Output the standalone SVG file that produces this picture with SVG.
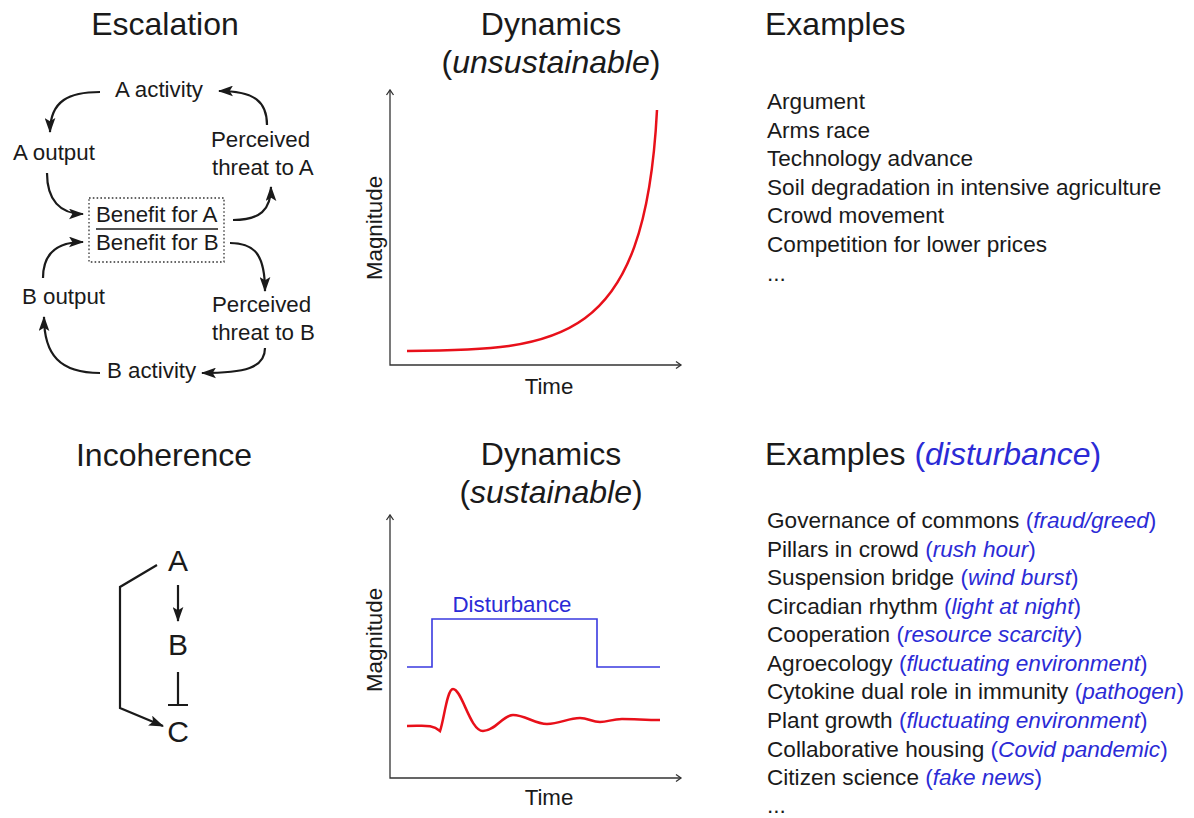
<svg xmlns="http://www.w3.org/2000/svg" width="1194" height="818" viewBox="0 0 1194 818">
<style>
text{font-family:"Liberation Sans",Arial,sans-serif;fill:#1a1a1a}
.t{font-size:32px}
.s{font-size:22.3px}
.l{font-size:22.6px}
.abc{font-size:30px}
.b{fill:#2b2bd6}
.i{font-style:italic}
.con{fill:none;stroke:#1a1a1a;stroke-width:2.2}
.ax{fill:none;stroke:#333;stroke-width:1.3}
.chev{fill:none;stroke:#333;stroke-width:1.3}
</style>
<defs>
<marker id="ah" viewBox="0 0 14 10" refX="13" refY="5" markerWidth="15" markerHeight="11" markerUnits="userSpaceOnUse" orient="auto">
<path d="M0,0 L14,5 L0,10 L3,5 z" fill="#1a1a1a"/>
</marker>
</defs>
<rect width="1194" height="818" fill="#fff"/>

<!-- titles -->
<g id="titles">
<text class="t" x="165" y="35" text-anchor="middle">Escalation</text>
<text class="t" x="551" y="35" text-anchor="middle">Dynamics</text>
<text class="t" x="551" y="73" text-anchor="middle">(<tspan class="i">unsustainable</tspan>)</text>
<text class="t" x="765" y="35">Examples</text>
<text class="t" x="164" y="466" text-anchor="middle">Incoherence</text>
<text class="t" x="551" y="465" text-anchor="middle">Dynamics</text>
<text class="t" x="551" y="503" text-anchor="middle">(<tspan class="i">sustainable</tspan>)</text>
<text class="t" x="765" y="465">Examples <tspan class="b">(</tspan><tspan class="b i">disturbance</tspan><tspan class="b">)</tspan></text>
</g>

<!-- escalation nodes -->
<g id="a-activity"><text class="s" x="115" y="97">A activity</text></g>
<g id="a-output"><text class="s" x="13" y="160">A output</text></g>
<g id="threat-a"><text class="s" x="211" y="147">Perceived</text><text class="s" x="212" y="175">threat to A</text></g>
<g id="benefit">
<rect x="89" y="198" width="135" height="64" fill="none" stroke="#333" stroke-width="1.3" stroke-dasharray="1.6,2.2"/>
<text class="s" x="96" y="222">Benefit for A</text>
<line x1="96" y1="229" x2="218" y2="229" stroke="#1a1a1a" stroke-width="1.6"/>
<text class="s" x="96" y="250">Benefit for B</text>
</g>
<g id="b-output"><text class="s" x="22" y="304">B output</text></g>
<g id="threat-b"><text class="s" x="212" y="312">Perceived</text><text class="s" x="212" y="340">threat to B</text></g>
<g id="b-activity"><text class="s" x="107" y="378">B activity</text></g>

<!-- incoherence nodes -->
<g id="node-a"><text class="abc" x="178" y="571" text-anchor="middle">A</text></g>
<g id="node-b"><text class="abc" x="178" y="655" text-anchor="middle">B</text></g>
<g id="node-c"><text class="abc" x="178" y="742" text-anchor="middle">C</text></g>

<!-- connectors -->
<g id="connectors">
<path class="con" d="M100,92 C70,92 50,100 50,132" marker-end="url(#ah)"/>
<path class="con" d="M47,173 C47,200 60,214 83,214" marker-end="url(#ah)"/>
<path class="con" d="M233,220 C260,220 271,210 271,187" marker-end="url(#ah)"/>
<path class="con" d="M267,125 C267,102 255,91 219,91" marker-end="url(#ah)"/>
<path class="con" d="M43,278 C43,255 55,242 83,242" marker-end="url(#ah)"/>
<path class="con" d="M230,243 C255,243 265,255 265,291" marker-end="url(#ah)"/>
<path class="con" d="M265,348 C265,368 245,373 202,373" marker-end="url(#ah)"/>
<path class="con" d="M100,373 C60,373 44,355 44,317" marker-end="url(#ah)"/>
<path class="con" d="M178,585 L178,621" marker-end="url(#ah)"/>
<path class="con" d="M178,672 L178,705 M168,705 L188,705"/>
<path class="con" d="M157,565 L120,587 L120,708 L163,726" marker-end="url(#ah)"/>
</g>

<!-- top chart -->
<g id="chart-top">
<path class="ax" d="M390,90 L390,365 L681,365"/>
<path class="chev" d="M386.5,95 L390,90 L393.5,95 M676,361.5 L681,365 L676,368.5"/>
<path d="M407,351 C560,350 645,345 657,110" fill="none" stroke="#e8101a" stroke-width="2.5"/>
<text class="s" x="382" y="228" text-anchor="middle" transform="rotate(-90 382 228)">Magnitude</text>
<text class="s" x="549" y="394" text-anchor="middle">Time</text>
</g>

<!-- bottom chart -->
<g id="chart-bottom">
<path class="ax" d="M390,515 L390,778 L681,778"/>
<path class="chev" d="M386.5,520 L390,515 L393.5,520 M676,774.5 L681,778 L676,781.5"/>
<path d="M407,667 L432,667 L432,619 L597,619 L597,667 L660,667" fill="none" stroke="#3a3ae0" stroke-width="1.6"/>
<text class="s b" x="512" y="612" text-anchor="middle">Disturbance</text>
<path d="M407,726 C425,726 432,724 440,731 C444,720 447,689 453,689 C462,689 470,731 483,731 C495,731 503,715 513,715 C525,715 535,724 547,724 C560,724 568,718 580,718 C588,718 592,722 600,722 C608,722 612,719 622,719 C635,719 645,720 660,720" fill="none" stroke="#e8101a" stroke-width="2.5"/>
<text class="s" x="382" y="640" text-anchor="middle" transform="rotate(-90 382 640)">Magnitude</text>
<text class="s" x="549" y="805" text-anchor="middle">Time</text>
</g>

<!-- top examples -->
<g id="examples-top">
<text class="l" x="767" y="109">Argument</text>
<text class="l" x="767" y="138">Arms race</text>
<text class="l" x="767" y="166">Technology advance</text>
<text class="l" x="767" y="195">Soil degradation in intensive agriculture</text>
<text class="l" x="767" y="223">Crowd movement</text>
<text class="l" x="767" y="252">Competition for lower prices</text>
<text class="l" x="767" y="281">...</text>
</g>

<!-- bottom examples -->
<g id="examples-bottom">
<text class="l" x="767" y="528">Governance of commons <tspan class="b">(</tspan><tspan class="b i">fraud/greed</tspan><tspan class="b">)</tspan></text>
<text class="l" x="767" y="557">Pillars in crowd <tspan class="b">(</tspan><tspan class="b i">rush hour</tspan><tspan class="b">)</tspan></text>
<text class="l" x="767" y="585">Suspension bridge <tspan class="b">(</tspan><tspan class="b i">wind burst</tspan><tspan class="b">)</tspan></text>
<text class="l" x="767" y="614">Circadian rhythm <tspan class="b">(</tspan><tspan class="b i">light at night</tspan><tspan class="b">)</tspan></text>
<text class="l" x="767" y="642">Cooperation <tspan class="b">(</tspan><tspan class="b i">resource scarcity</tspan><tspan class="b">)</tspan></text>
<text class="l" x="767" y="671">Agroecology <tspan class="b">(</tspan><tspan class="b i">fluctuating environment</tspan><tspan class="b">)</tspan></text>
<text class="l" x="767" y="699">Cytokine dual role in immunity <tspan class="b">(</tspan><tspan class="b i">pathogen</tspan><tspan class="b">)</tspan></text>
<text class="l" x="767" y="728">Plant growth <tspan class="b">(</tspan><tspan class="b i">fluctuating environment</tspan><tspan class="b">)</tspan></text>
<text class="l" x="767" y="757">Collaborative housing <tspan class="b">(</tspan><tspan class="b i">Covid pandemic</tspan><tspan class="b">)</tspan></text>
<text class="l" x="767" y="785">Citizen science <tspan class="b">(</tspan><tspan class="b i">fake news</tspan><tspan class="b">)</tspan></text>
<text class="l" x="767" y="813">...</text>
</g>
</svg>
